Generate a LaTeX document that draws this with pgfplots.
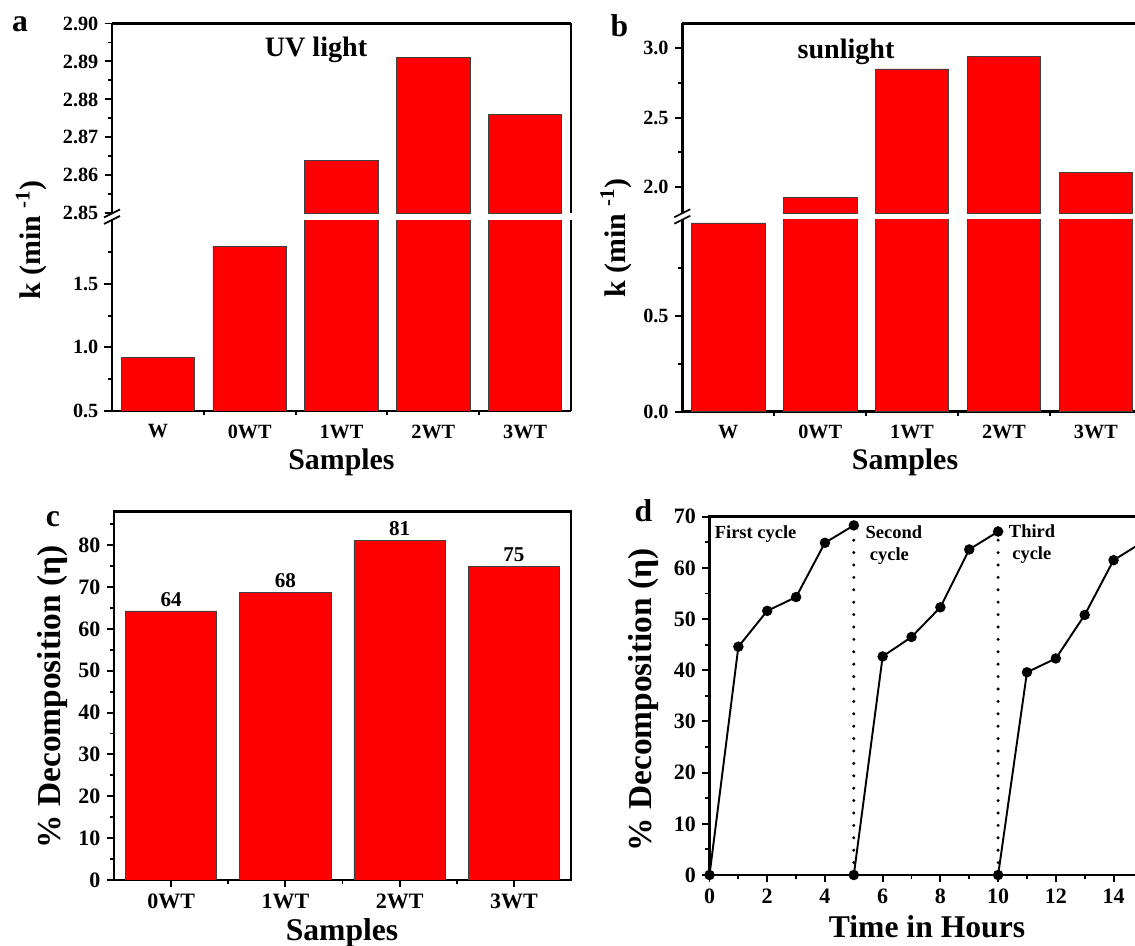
\documentclass[border=0pt]{standalone}
\usepackage{fontspec}
\setmainfont{Liberation Serif}
\usepackage{pgfplots}
\pgfplotsset{compat=1.18}

% 1 px of the reference = 0.2 mm
\newcommand{\fs}[1]{\fontsize{#1}{#1}\selectfont\bfseries}

\pgfplotsset{
  panel/.style={
    scale only axis, anchor=south west,
    tick align=outside,
    axis line style={line width=1.4pt},
    every tick/.style={black, line width=1.1pt},
    major tick length=1.5mm, minor tick length=0.9mm,
    tick label style={font=\fs{11.5}},
    /pgf/number format/assume math mode=true,
  },
  redbar/.style={ybar, bar width=0.8, fill=red, draw=black!75, line width=0.4pt},
  catx/.style={xmin=-0.5, xmax=4.5, xtick={0,1,2,3,4},
    xticklabels={W,0WT,1WT,2WT,3WT},
    minor xtick={0.5,1.5,2.5,3.5}, major x tick style={draw=none}},
}

\begin{document}
\begin{tikzpicture}

%% ---------- a : UV light ----------
% upper part of the broken axis: only the bars that reach it
\begin{axis}[panel, at={(22.4mm,146.52mm)}, width=91.8mm, height=37.98mm,
  axis x line*=top, axis y line*=box, ytick pos=left,
  xmin=-0.5, xmax=4.5, xtick=\empty,
  ymin=2.85, ymax=2.90,
  ytick={2.85,2.86,2.87,2.88,2.89,2.90},
  yticklabels={2.85,2.86,2.87,2.88,2.89,2.90},
  minor ytick={2.855,2.865,2.875,2.885,2.895}]
\addplot[redbar] coordinates {(2,2.864) (3,2.891) (4,2.876)};
\end{axis}
\begin{axis}[panel, at={(22.4mm,107.0mm)}, width=91.8mm, height=38.18mm,
  axis x line*=bottom, axis y line*=box, ytick pos=left, catx,
  ymin=0.5, ymax=2.0,
  ytick={0.5,1.0,1.5}, yticklabels={0.5,1.0,1.5},
  minor ytick={0.75,1.25,1.75}]
\addplot[redbar] coordinates {(0,0.918) (1,1.793) (2,2.864) (3,2.891) (4,2.876)};
\end{axis}

%% ---------- b : sunlight ----------
\begin{axis}[panel, at={(136.46mm,146.56mm)}, width=91.9mm, height=37.94mm,
  axis x line*=top, axis y line*=box, ytick pos=left,
  xmin=-0.5, xmax=4.5, xtick=\empty,
  ymin=1.81, ymax=3.18,
  ytick={2.0,2.5,3.0}, yticklabels={2.0,2.5,3.0},
  minor ytick={2.25,2.75}]
\addplot[redbar] coordinates {(1,1.925) (2,2.852) (3,2.941) (4,2.104)};
\end{axis}
\begin{axis}[panel, at={(136.46mm,106.86mm)}, width=91.9mm, height=38.36mm,
  axis x line*=bottom, axis y line*=box, ytick pos=left, catx,
  ymin=0, ymax=1.0,
  ytick={0,0.5}, yticklabels={0.0,0.5},
  minor ytick={0.25,0.75}]
\addplot[redbar] coordinates {(0,0.984) (1,1.925) (2,2.852) (3,2.941) (4,2.104)};
\end{axis}

%% ---------- c : decomposition per sample ----------
\begin{axis}[panel, at={(22.8mm,13.2mm)}, width=91.4mm, height=73.66mm,
  tick pos=left, tick label style={font=\fs{12.5}},
  xmin=-0.5, xmax=3.5, xtick={0,1,2,3}, xticklabels={0WT,1WT,2WT,3WT},
  minor xtick={0.5,1.5,2.5},
  ymin=0, ymax=88, ytick={0,10,...,80}, minor ytick={5,15,...,85},
  point meta=explicit symbolic, nodes near coords,
  every node near coord/.append style={anchor=south, inner sep=0pt,
    yshift=0.8mm, font=\fs{12}}]
\addplot[redbar] coordinates {(0,64.3) [64] (1,68.8) [68] (2,81.2) [81] (3,74.9) [75]};
\end{axis}

%% ---------- d : cycles ----------
\begin{axis}[panel, at={(141.9mm,14.2mm)}, width=92.35mm, height=71.66mm,
  tick pos=left, tick label style={font=\fs{12.5}},
  xmin=0, xmax=16, xtick={0,2,...,14}, minor xtick={1,3,...,15},
  ymin=0, ymax=70, ytick={0,10,...,70}, minor ytick={5,15,...,65}]
\addplot[black, line cap=round, line width=1.9pt, dash pattern=on 0pt off 2.48mm]
  coordinates {(5,0) (5,70)};
\addplot[black, line cap=round, line width=1.9pt, dash pattern=on 0pt off 2.48mm]
  coordinates {(10,0) (10,70)};
\addplot[black, line width=1.1pt, mark=*, mark size=2.4pt]
  coordinates {(0,0) (1,44.6) (2,51.6) (3,54.3) (4,64.9) (5,68.3)};
\addplot[black, line width=1.1pt, mark=*, mark size=2.4pt]
  coordinates {(5,0) (6,42.7) (7,46.5) (8,52.3) (9,63.6) (10,67.1)};
\addplot[black, line width=1.1pt, mark=*, mark size=2.4pt]
  coordinates {(10,0) (11,39.6) (12,42.3) (13,50.8) (14,61.5) (15,65.0)};
\end{axis}

%% break marks
\foreach \bx/\by in {22.4/145.86, 136.46/145.9}{
  \draw[line width=1pt] (\bx mm-1.6mm,\by mm+0.65mm-0.8mm) -- ++(3.2mm,1.6mm);
  \draw[line width=1pt] (\bx mm-1.6mm,\by mm-0.65mm-0.8mm) -- ++(3.2mm,1.6mm);
}

%% texts
\node[anchor=base, font=\fs{18}] at (4.0mm,182.8mm) {a};
\node[anchor=base, font=\fs{18}] at (123.9mm,181.8mm) {b};
\node[anchor=base, font=\fs{18}] at (10.6mm,83.8mm) {c};
\node[anchor=base, font=\fs{18}] at (128.7mm,84.8mm) {d};

\node[anchor=base, font=\fs{16}] at (63.2mm,177.8mm) {UV light};
\node[anchor=base, font=\fs{16}] at (169.2mm,177.46mm) {sunlight};

\node[anchor=base, font=\fs{17}] at (68.3mm,95.2mm) {Samples};
\node[anchor=base, font=\fs{17}] at (181mm,95.2mm) {Samples};
\node[anchor=base, font=\fs{18}] at (68.4mm,1.0mm) {Samples};
\node[anchor=base, font=\fs{18}] at (185.4mm,1.6mm) {Time in Hours};

\node[rotate=90, font=\fs{17}] at (6.3mm,141.2mm) {k (min \textsuperscript{-1})};
\node[rotate=90, font=\fs{17}] at (123.2mm,141.6mm) {k (min \textsuperscript{-1})};
\node[rotate=90, font=\fs{19}] at (10.5mm,49.8mm) {\% Decomposition (η)};
\node[rotate=90, font=\fs{19}] at (128.6mm,49.2mm) {\% Decomposition (η)};

\node[anchor=base west, inner sep=0pt, font=\fs{10.5}] at (142.9mm,81.5mm) {First cycle};
\node[anchor=base west, inner sep=0pt, font=\fs{10.5}] at (173.06mm,81.44mm) {Second};
\node[anchor=base west, inner sep=0pt, font=\fs{10.5}] at (173.92mm,77.08mm) {cycle};
\node[anchor=base west, inner sep=0pt, font=\fs{10.5}] at (201.72mm,81.64mm) {Third};
\node[anchor=base west, inner sep=0pt, font=\fs{10.5}] at (202.4mm,77.36mm) {cycle};

\pgfresetboundingbox
\useasboundingbox (0,0) rectangle (227mm,189.2mm);
\end{tikzpicture}
\end{document}
